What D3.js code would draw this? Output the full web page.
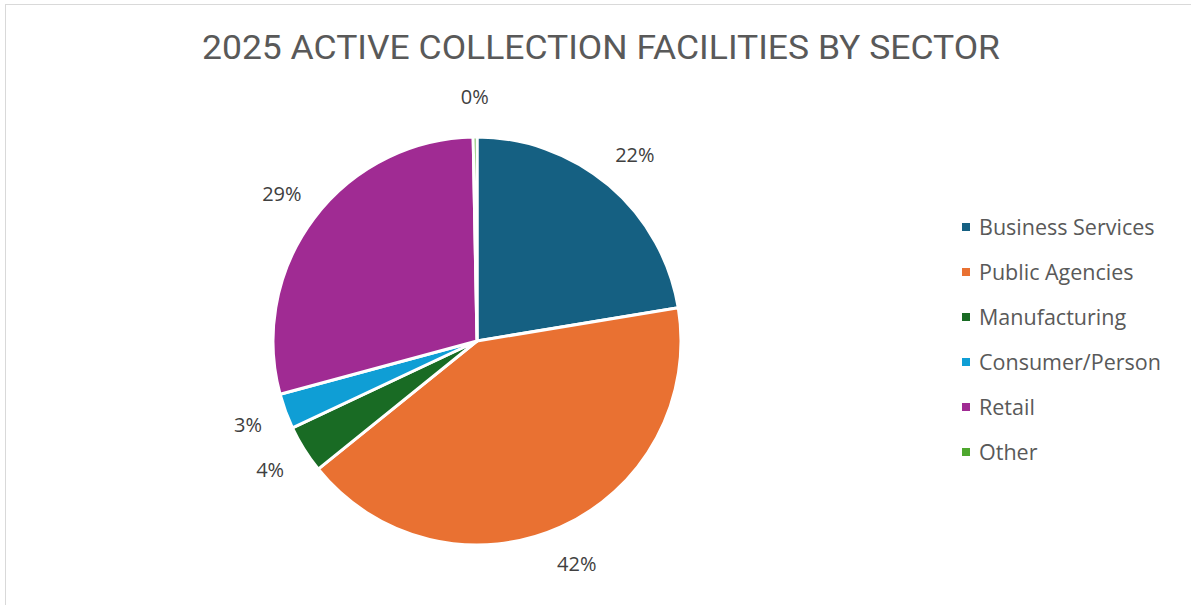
<!DOCTYPE html>
<html>
<head>
<meta charset="utf-8">
<script src="https://cdn.jsdelivr.net/npm/d3@7"></script>
<style>
  body { margin: 0; background: #fff; }
  text { font-family: "Open Sans", Roboto, sans-serif; }
</style>
</head>
<body>
<div id="chart"></div>
<script>
const categories = ["Business Services", "Public Agencies", "Manufacturing", "Consumer/Person", "Retail", "Other"];
const shares = [22.4, 41.8, 3.8, 2.8, 28.9, 0.3];
const colors = ["#156082", "#E97132", "#196B24", "#0F9ED5", "#A02B93", "#4EA72E"];
const title = "2025 ACTIVE COLLECTION FACILITIES BY SECTOR";

(() => {
  const width = 1191;
  const height = 605;
  const cx = 477, cy = 341, radius = 204;

  const svg = d3.select("#chart").append("svg")
    .attr("width", width)
    .attr("height", height);

  // chart area border
  svg.append("rect")
    .attr("x", 5.5).attr("y", 4.5)
    .attr("width", width + 20).attr("height", height + 20)
    .attr("fill", "#fff")
    .attr("stroke", "#d9d9d9");

  svg.append("text")
    .attr("x", 601).attr("y", 59)
    .attr("text-anchor", "middle")
    .attr("fill", "#595959")
    .style("font-family", "Roboto, sans-serif")
    .style("font-size", "34px")
    .attr("textLength", 798)
    .attr("lengthAdjust", "spacingAndGlyphs")
    .text(title);

  const data = categories.map((c, i) => ({ name: c, value: shares[i] }));
  const color = d3.scaleOrdinal().domain(categories).range(colors);

  const pie = d3.pie().sort(null).value((d) => d.value);
  const arcs = pie(data);
  const arc = d3.arc().innerRadius(0).outerRadius(radius);
  const labelArc = d3.arc().innerRadius(244).outerRadius(244);

  const g = svg.append("g").attr("transform", `translate(${cx},${cy})`);

  g.selectAll("path")
    .data(arcs)
    .join("path")
    .attr("d", arc)
    .attr("fill", (d) => color(d.data.name))
    .attr("stroke", "#fff")
    .attr("stroke-width", 3)
    .attr("stroke-linejoin", "round");

  g.selectAll("text.lbl")
    .data(arcs)
    .join("text")
    .attr("class", "lbl")
    .attr("transform", (d) => `translate(${labelArc.centroid(d)})`)
    .attr("text-anchor", "middle")
    .attr("dy", "0.35em")
    .attr("fill", "#404040")
    .style("font-size", "20px")
    .text((d) => Math.round(d.data.value) + "%");

  // legend
  const legend = svg.append("g").attr("transform", "translate(962,227)");
  const rows = legend.selectAll("g")
    .data(categories)
    .join("g")
    .attr("transform", (d, i) => `translate(0,${i * 45})`);

  rows.append("rect")
    .attr("x", 0).attr("y", -4)
    .attr("width", 8).attr("height", 8)
    .attr("fill", (d) => color(d));

  rows.append("text")
    .attr("x", 17).attr("dy", "0.35em")
    .attr("fill", "#595959")
    .style("font-size", "21.5px")
    .text((d) => d);
})();
</script>
</body>
</html>
